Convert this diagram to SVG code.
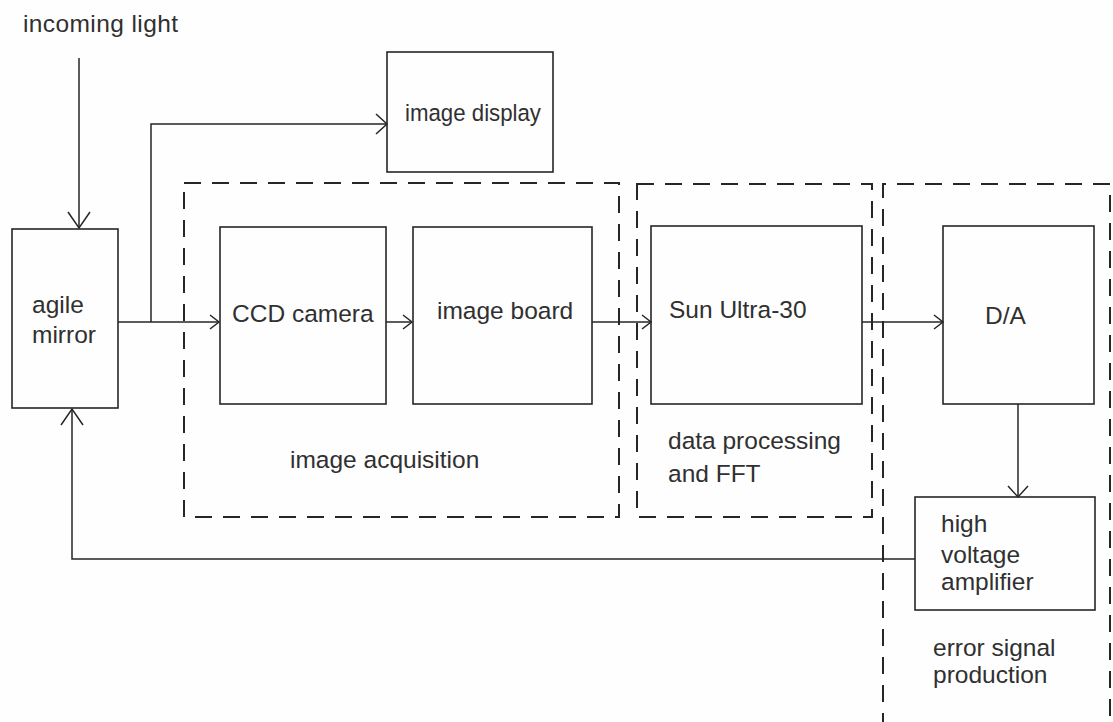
<svg xmlns="http://www.w3.org/2000/svg" width="1113" height="722" viewBox="0 0 1113 722">
  <style>
    .box { fill: none; stroke: #262626; stroke-width: 1.6; }
    .group { fill: none; stroke: #262626; stroke-width: 2; stroke-dasharray: 17 11; }
    .wire { fill: none; stroke: #262626; stroke-width: 1.5; }
    .lbl { font-family: "Liberation Sans", Arial, sans-serif; font-size: 24.5px; fill: #303030; }
    .head { fill: none; stroke: #262626; stroke-width: 1.5; }
  </style>
  <defs>
    <!-- open V arrowheads, sized in user units -->
    <marker id="arrowS" viewBox="-12 -10 14 20" refX="0" refY="0" markerWidth="14" markerHeight="20" markerUnits="userSpaceOnUse" orient="auto" overflow="visible">
      <path class="head" d="M-9,-7 L0,0 L-9,7"/>
    </marker>
    <marker id="arrowM" viewBox="-14 -13 16 26" refX="0" refY="0" markerWidth="16" markerHeight="26" markerUnits="userSpaceOnUse" orient="auto" overflow="visible">
      <path class="head" d="M-11,-10 L0,0 L-11,10"/>
    </marker>
    <marker id="arrowL" viewBox="-19 -14 21 28" refX="0" refY="0" markerWidth="21" markerHeight="28" markerUnits="userSpaceOnUse" orient="auto" overflow="visible">
      <path class="head" d="M-16,-11 L0,0 L-16,11"/>
    </marker>
  </defs>
  <rect width="1113" height="722" fill="#fefefe"/>

  <!-- functional groupings (dashed outlines) -->
  <g id="groups">
    <g id="grp-acquisition">
      <rect class="group" x="184" y="183" width="435" height="334"/>
      <text class="lbl" x="290" y="468">image acquisition</text>
    </g>
    <g id="grp-processing">
      <rect class="group" x="637" y="184" width="235" height="333"/>
      <text class="lbl" x="668" y="449">data processing</text>
      <text class="lbl" x="668" y="482">and FFT</text>
    </g>
    <g id="grp-error">
      <path class="group" d="M883,730 V184 H1110 V730"/>
      <text class="lbl" x="933" y="656">error signal</text>
      <text class="lbl" x="933" y="683">production</text>
    </g>
  </g>

  <!-- connectors -->
  <g id="connectors">
    <path class="wire" d="M79,58 V228" marker-end="url(#arrowL)"/>
    <path class="wire" d="M118,322 H219" marker-end="url(#arrowS)"/>
    <path class="wire" d="M151,322 V124 H387" marker-end="url(#arrowM)"/>
    <path class="wire" d="M386,322 H412" marker-end="url(#arrowS)"/>
    <path class="wire" d="M592,322 H651" marker-end="url(#arrowS)"/>
    <path class="wire" d="M862,322 H943" marker-end="url(#arrowS)"/>
    <path class="wire" d="M1018,404 V497" marker-end="url(#arrowM)"/>
    <path class="wire" d="M915,559 H72 V409" marker-end="url(#arrowL)"/>
  </g>

  <text class="lbl" x="23" y="32" textLength="155" lengthAdjust="spacing">incoming light</text>

  <g id="agile-mirror">
    <rect class="box" x="12" y="229" width="106" height="179"/>
    <text class="lbl" x="32" y="313">agile</text>
    <text class="lbl" x="32" y="343">mirror</text>
  </g>
  <g id="image-display">
    <rect class="box" x="387" y="52" width="166" height="120"/>
    <text class="lbl" x="405" y="121" textLength="136" lengthAdjust="spacingAndGlyphs">image display</text>
  </g>
  <g id="ccd-camera">
    <rect class="box" x="220" y="227" width="166" height="177"/>
    <text class="lbl" x="232" y="322">CCD camera</text>
  </g>
  <g id="image-board">
    <rect class="box" x="413" y="227" width="179" height="177"/>
    <text class="lbl" x="437" y="319">image board</text>
  </g>
  <g id="sun-ultra">
    <rect class="box" x="651" y="226" width="211" height="178"/>
    <text class="lbl" x="669" y="318">Sun Ultra-30</text>
  </g>
  <g id="d-a">
    <rect class="box" x="943" y="226" width="151" height="178"/>
    <text class="lbl" x="985" y="324">D/A</text>
  </g>
  <g id="hv-amplifier">
    <rect class="box" x="915" y="497" width="180" height="113"/>
    <text class="lbl" x="941" y="532">high</text>
    <text class="lbl" x="941" y="563">voltage</text>
    <text class="lbl" x="941" y="590">amplifier</text>
  </g>
</svg>
